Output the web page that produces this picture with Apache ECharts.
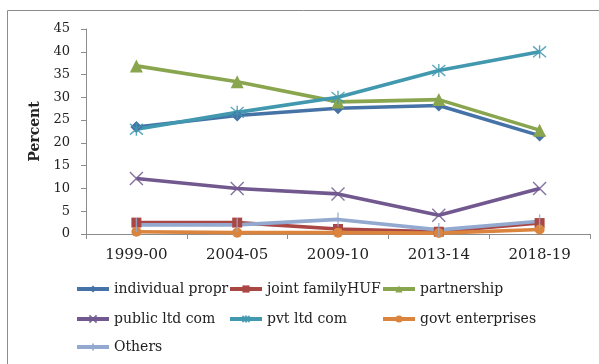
<!DOCTYPE html>
<html>
<head>
<meta charset="utf-8">
<script src="https://cdn.jsdelivr.net/npm/echarts@6/dist/echarts.min.js"></script>
<style>
  html, body { margin: 0; padding: 0; background: #fff; }
  #chart { width: 599px; height: 364px; }
</style>
</head>
<body>
<div id="chart"></div>
<script>
// Periods on the category axis
const periods = ['1999-00', '2004-05', '2009-10', '2013-14', '2018-19'];

// Share (percent) by form of ownership
const individualPropr = [23.5, 26.0, 27.6, 28.2, 21.6];
const jointFamilyHUF = [2.5, 2.5, 1.1, 0.5, 2.4];
const partnership = [36.9, 33.4, 29.0, 29.5, 22.8];
const publicLtdCom = [12.2, 10.0, 8.8, 4.1, 10.0];
const pvtLtdCom = [23.0, 26.7, 30.0, 35.9, 40.0];
const govtEnterprises = [0.5, 0.3, 0.3, 0.2, 1.0];
const others = [2.0, 2.0, 3.2, 0.9, 2.8];

// Value axis ticks
const yMin = 0, yMax = 45, yStep = 5;

const seriesNames = ['individual propr', 'joint familyHUF', 'partnership',
  'public ltd com', 'pvt ltd com', 'govt enterprises', 'Others'];

const serifFont = '"DejaVu Serif", "Liberation Serif", serif';

// Stroke-only marker shapes (zero-length end segments keep the box square)
const crossPath = 'path://M0,0L10,10M10,0L0,10';
const starPath = 'path://M0,0L10,10M10,0L0,10M5,-1L5,11';
const plusPath = 'path://M5,0L5,10M0,5L0.01,5M10,5L9.99,5';

function lineSeries(name, data, color, symbol, size, strokeOnly) {
  return {
    name: name,
    type: 'line',
    data: data,
    symbol: symbol,
    symbolSize: size,
    showAllSymbol: true,
    lineStyle: { color: color, width: 3.6 },
    itemStyle: strokeOnly
      ? { color: 'rgba(0,0,0,0)', borderColor: color, borderWidth: 1.4, opacity: 0.85 }
      : { color: color, borderColor: color, borderWidth: 0 },
    emphasis: { disabled: true },
    z: 2
  };
}

// One legend block per entry so that the three columns line up
const legendCols = [75, 228, 381];
const legendRowCentres = [290, 320, 348];
const legends = seriesNames.map(function (n, i) {
  const row = Math.floor(i / 3);
  return {
    id: 'lg' + i,
    orient: 'horizontal',
    data: [n],
    left: legendCols[i % 3],
    top: legendRowCentres[row] - 8,
    itemWidth: 32,
    itemHeight: 9,
    itemGap: 0,
    padding: 0,
    lineStyle: { width: 4 },
    textStyle: { fontFamily: serifFont, fontSize: 14, color: '#222' },
    selectedMode: false
  };
});

const chart = echarts.init(document.getElementById('chart'), null, { renderer: 'canvas' });
chart.setOption({
  animation: false,
  backgroundColor: '#ffffff',
  graphic: [
    {
      type: 'polyline',
      shape: { points: [[7.5, 364], [7.5, 10.5], [599, 10.5]] },
      style: { stroke: '#8c8c8c', lineWidth: 1, fill: null },
      silent: true
    }
  ],
  legend: legends,
  grid: { left: 86, top: 29, right: 9, bottom: 130 },
  xAxis: {
    type: 'category',
    data: periods,
    boundaryGap: true,
    axisLine: { lineStyle: { color: '#8c8c8c', width: 1 } },
    axisTick: { show: true, alignWithLabel: false, length: 5, lineStyle: { color: '#8c8c8c' } },
    axisLabel: { fontFamily: serifFont, fontSize: 15, color: '#222', margin: 14 },
    splitLine: { show: false }
  },
  yAxis: {
    type: 'value',
    min: yMin,
    max: yMax,
    interval: yStep,
    name: 'Percent',
    nameLocation: 'middle',
    nameGap: 32,
    nameTextStyle: { fontFamily: serifFont, fontSize: 14, fontWeight: 'bold', color: '#222' },
    axisLine: { show: true, lineStyle: { color: '#8c8c8c', width: 1 } },
    axisTick: { show: true, length: 5, lineStyle: { color: '#8c8c8c' } },
    axisLabel: { fontFamily: serifFont, fontSize: 13, color: '#222', margin: 16 },
    splitLine: { show: false }
  },
  series: [
    lineSeries(seriesNames[0], individualPropr, '#4572A7', 'diamond', 12, false),
    lineSeries(seriesNames[1], jointFamilyHUF, '#AA4643', 'rect', 10, false),
    lineSeries(seriesNames[2], partnership, '#89A54E', 'triangle', 13, false),
    lineSeries(seriesNames[3], publicLtdCom, '#71588F', crossPath, 13, true),
    lineSeries(seriesNames[4], pvtLtdCom, '#4198AF', starPath, 13, true),
    lineSeries(seriesNames[5], govtEnterprises, '#DB843D', 'circle', 10, false),
    lineSeries(seriesNames[6], others, '#93A9CF', plusPath, 14, true)
  ]
});
</script>
</body>
</html>
